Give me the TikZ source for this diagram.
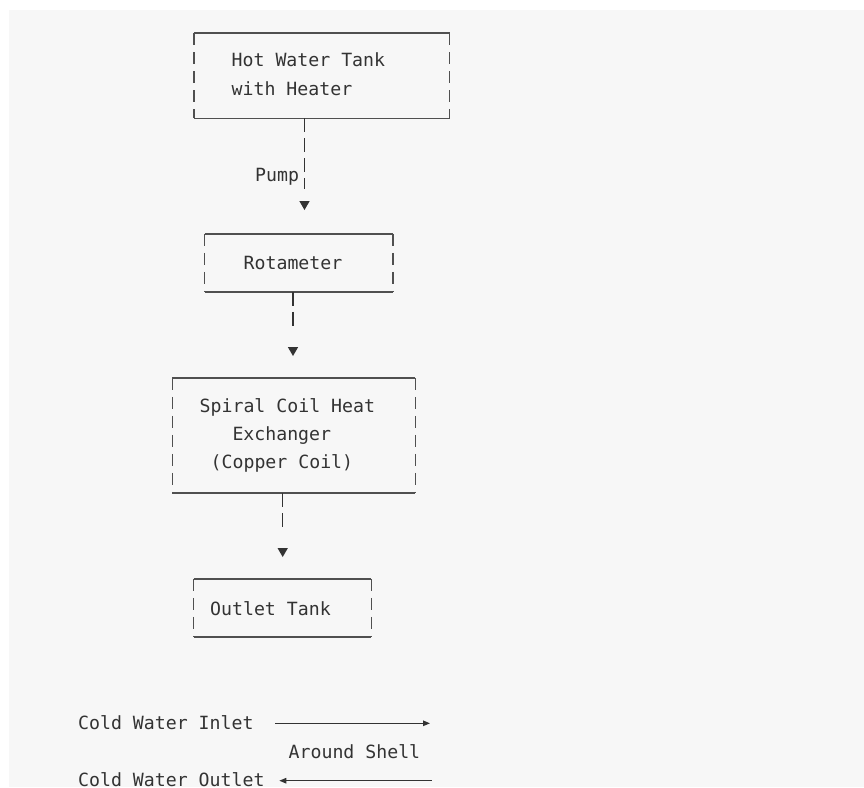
\documentclass[tikz,border=0pt]{standalone}
\usepackage{fontspec}
\setmonofont{DejaVu Sans Mono}
\usetikzlibrary{arrows.meta,shapes.geometric}
\definecolor{panel}{HTML}{F7F7F7}
\definecolor{ink}{HTML}{333333}
\definecolor{edge}{HTML}{505050}
\newcommand\asciibox[1]{%
  \draw[hline] (#1.north west) -- (#1.north east);
  \draw[hline] (#1.south west) -- (#1.south east);
  \draw[vline] (#1.north west) -- (#1.south west);
  \draw[vline] (#1.north east) -- (#1.south east);}
\begin{document}
\begin{tikzpicture}[x=1pt,y=-1pt,
  txt/.style={anchor=base west,inner sep=0pt,font=\ttfamily\fontsize{18.2}{28}\selectfont,text=ink},
  frame/.style={inner sep=0pt,draw=none},
  hline/.style={draw=edge,line width=1.5pt},
  vline/.style={draw=edge,line width=1.3pt,dash pattern=on 12pt off 7pt},
  conn/.style={draw=ink,line width=1.3pt,dash pattern=on 14pt off 6pt},
  tip/.style={regular polygon,regular polygon sides=3,shape border rotate=180,fill=ink,inner sep=0pt,minimum size=12pt},
  flow/.style={draw=ink,line width=1.2pt,-{Triangle[length=7pt,width=5.5pt]}}]
\useasboundingbox (0,0) rectangle (864,787);
\fill[white] (0,0) rectangle (864,787);
\fill[panel] (9,10) rectangle (864,787);

% boxes
\node[frame,minimum width=255.3pt,minimum height=84.7pt] (hot) at (321.7,75.7) {};
\node[frame,minimum width=187.7pt,minimum height=57.7pt] (rotb) at (298.8,262.8) {};
\node[frame,minimum width=242.3pt,minimum height=115pt] (hex) at (293.8,435.5) {};
\node[frame,minimum width=177pt,minimum height=58pt] (outb) at (282.5,608) {};
\asciibox{hot}
\asciibox{rotb}
\asciibox{hex}
\asciibox{outb}

% texts
\node[txt] (l1a) at (231.5,66) {Hot Water Tank};
\node[txt] (l1b) at (231.5,95) {with Heater};
\node[txt] (pump) at (255,181.5) {Pump};
\node[txt] (rot) at (243.5,269) {Rotameter};
\node[txt] (l3a) at (199.5,412) {Spiral Coil Heat};
\node[txt] (l3b) at (232.3,440) {Exchanger};
\node[txt] (l3c) at (210.5,468) {(Copper Coil)};
\node[txt] (out) at (210,615) {Outlet Tank};
\node[txt] (cwi) at (78,729.5) {Cold Water Inlet};
\node[txt] (shell) at (288.5,758.5) {Around Shell};
\node[txt] (cwo) at (78,786) {Cold Water Outlet};

% arrow tips
\node[tip] (t1) at (304.5,204) {};
\node[tip] (t2) at (293,350) {};
\node[tip] (t3) at (282.7,551) {};

% dashed connectors
\draw[conn,shorten >=12pt] (t1 |- hot.south) -- (t1.north);
\draw[conn,shorten >=16pt] (t2 |- rotb.south) -- (t2.north);
\draw[conn,shorten >=15.5pt] (t3 |- hex.south) -- (t3.north);

% cold water flow
\coordinate (ia) at (275,723.3);
\coordinate (ib) at (430,723.3);
\coordinate (oa) at (431.7,780.7);
\coordinate (ob) at (279.3,780.7);
\draw[flow] (ia) -- (ib);
\draw[flow] (oa) -- (ob);
\end{tikzpicture}
\end{document}
